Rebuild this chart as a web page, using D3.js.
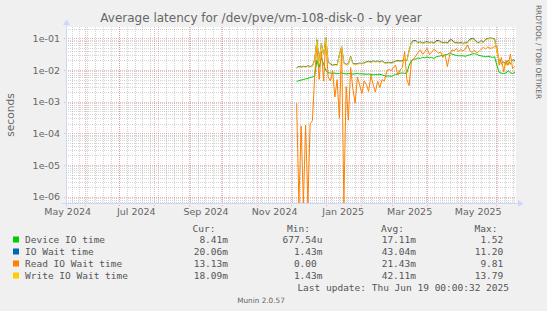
<!DOCTYPE html>
<html>
<head>
<meta charset="utf-8">
<script src="https://cdn.jsdelivr.net/npm/d3@7"></script>
<style>
  body { margin: 0; background: #f0f0f0; }
  svg { display: block; }
  text { font-family: "DejaVu Sans", sans-serif; fill: #666; }
  .mono { font-family: "DejaVu Sans Mono", monospace; font-size: 9.5px; fill: #555; }
</style>
</head>
<body>
<div id="chart"></div>
<script>
// canvas and plot box
var w = 547, h = 311;
var plotL = 66, plotR = 516, plotT = 27, plotB = 203;

// one sample every 2 days starting 6 Dec 2024, values in milliseconds
var firstDay = Date.UTC(2024, 11, 6);
var stepDays = 2;

var deviceIO = [4.3,4.6,4.8,5.0,5.2,5.4,5.8,6.0,6.5,20,12,25,15,9.5,8.2,8.0,7.8,8.0,7.6,7.8,8.2,7.7,7.5,7.6,7.9,7.4,7.6,7.8,7.5,7.6,
  7.4,7.3,7.5,7.2,7.0,7.2,7.1,7.3,7.0,6.6,6.4,6.5,6.3,6.7,7.2,7.6,7.9,8.1,7.8,8.2,
  14,20,22,22,24,23,25,24,26,24,25,23,26,27,28,29,30,31,34,32,
  30,29,28,28,28,27,29,30,32,33,31,29,28,27,26,27,26,25,26,14,
  8.5,7.9,7.8,8.0,9.5,8.2,7.8,8.4];

var ioWait = [11.8,13.0,12.3,13.1,12.7,13.4,12.9,13.5,21,90,19,68,31,104,17.8,15.7,14.1,15.1,14.4,31,54,16.7,15.1,15.6,27,16.2,15.4,15.9,16.5,16.1,
  16.7,18.3,18.8,18,19.2,18.6,19,18.3,19.4,17.2,16.7,17.5,16.9,17.8,19.3,19.8,19,19.6,20.3,19.8,
  42,75,85,84,73,77,71,75,80,73,76,71,84,86,78,73,75,71,88,90,
  75,73,71,73,69,72,75,94,100,94,77,73,84,75,94,99,102,100,96,40,
  21,16,18,14.2,20,15.3,21,20.1];

var readWait = [0.89,0,0.17,0,0.18,0,0.2,0.25,6,70,5,40,4.5,95,6,4.5,9.5,1.4,5,0.3,55,0,3.0,0.26,12,2.5,0.9,6,3.4,1.8,
  4.5,3.5,2.1,6.9,3.5,2.0,4.4,2.8,5.0,4.4,9,10.5,9.5,12,14,6.9,10,12,38,5,
  3.2,18,22,28,36,43,31,38,48,31,36,45,40,34,37,25,30,12.7,30,43,
  40,48,38,44,40,46,62,40,36,42,35,38,45,52,46,54,48,50,55,58,
  14,25,8.8,20,14,32,11,13.1];

var writeWait = [11.3,12.5,11.8,12.6,12.2,12.9,12.4,13.0,20,85,18,65,30,100,17,15,13.5,14.5,13.8,30,52,16,14.5,15,26,15.5,14.8,15.2,15.8,15.4,
  16,17.5,18,17.2,18.4,17.8,18.2,17.5,18.6,16.5,16.0,16.8,16.2,17.0,18.5,19,18.2,18.8,19.5,19.0,
  40,72,78,80,70,74,68,72,76,70,73,68,78,80,75,70,72,68,82,85,
  72,70,68,70,66,69,72,88,95,90,74,70,80,72,90,95,98,96,92,38,
  20,15,17,13.5,19,14.5,20,18.1];

var seriesNames = ["Device IO time", "IO Wait time", "Read IO Wait time", "Write IO Wait time"];
var seriesColors = ["#00cc00", "#0066b3", "#ff8000", "#ffcc00"];
var curVals = ["8.41m", "20.06m", "13.13m", "18.09m"];
var minVals = ["677.54u", "1.43m", "0.00", "1.43m"];
var avgVals = ["17.11m", "43.04m", "21.43m", "42.11m"];
var maxVals = ["1.52", "11.20", "9.81", "13.79"];

var yTicks = [1e-1, 1e-2, 1e-3, 1e-4, 1e-5, 1e-6];
var labelMonths = [Date.UTC(2024,4,1), Date.UTC(2024,6,1), Date.UTC(2024,8,1), Date.UTC(2024,10,1),
                   Date.UTC(2025,0,1), Date.UTC(2025,2,1), Date.UTC(2025,4,1)];

// time span: 400 days up to last update
var endTime = new Date(Date.UTC(2025, 5, 19, 0, 0, 32));
var startTime = new Date(endTime.getTime() - 400 * 864e5);

var x = d3.scaleUtc().domain([startTime, endTime]).range([plotL, plotR]);
var yMin = Math.pow(10, -6.199), yMax = Math.pow(10, -0.643);
var y = d3.scaleLog().domain([yMin, yMax]).range([plotB, plotT]);

var svg = d3.select("#chart").append("svg")
  .attr("width", w).attr("height", h);

svg.append("rect").attr("width", w).attr("height", h).attr("fill", "#f0f0f0");
svg.append("rect").attr("x", plotL).attr("y", plotT)
  .attr("width", plotR - plotL).attr("height", plotB - plotT).attr("fill", "#fff");

var minorCol = "rgba(143,143,143,0.38)";
var majorCol = "rgba(222,79,79,0.42)";

// minor grid
var minorY = [];
for (var e = -7; e <= 0; e++) {
  for (var k = 2; k <= 9; k++) {
    var v = k * Math.pow(10, e);
    if (v > yMin && v < yMax) minorY.push(v);
  }
}
var grid = svg.append("g");
grid.selectAll(".hminor").data(minorY).enter().append("line")
  .attr("x1", plotL).attr("x2", plotR)
  .attr("y1", d => Math.round(y(d)) + 0.5).attr("y2", d => Math.round(y(d)) + 0.5)
  .attr("stroke", minorCol).attr("stroke-dasharray", "1,1");

var weeks = d3.utcMonday.range(startTime, endTime);
grid.selectAll(".vminor").data(weeks).enter().append("line")
  .attr("x1", d => Math.round(x(d)) + 0.5).attr("x2", d => Math.round(x(d)) + 0.5)
  .attr("y1", plotT).attr("y2", plotB)
  .attr("stroke", minorCol).attr("stroke-dasharray", "1,1");

// major grid
grid.selectAll(".hmajor").data(yTicks).enter().append("line")
  .attr("x1", plotL - 2).attr("x2", plotR)
  .attr("y1", d => Math.round(y(d)) + 0.5).attr("y2", d => Math.round(y(d)) + 0.5)
  .attr("stroke", majorCol).attr("stroke-dasharray", "1,1");

var months = d3.utcMonth.range(startTime, endTime);
grid.selectAll(".vmajor").data(months).enter().append("line")
  .attr("x1", d => Math.round(x(d)) + 0.5).attr("x2", d => Math.round(x(d)) + 0.5)
  .attr("y1", plotT).attr("y2", plotB + 3)
  .attr("stroke", majorCol).attr("stroke-dasharray", "1,1");

// series
function toPoints(vals) {
  return vals.map(function(v, i) {
    return { date: new Date(firstDay + i * stepDays * 864e5), v: v };
  });
}
var allSeries = [deviceIO, ioWait, readWait, writeWait];

svg.append("clipPath").attr("id", "plotclip").append("rect")
  .attr("x", plotL).attr("y", plotT).attr("width", plotR - plotL).attr("height", plotB - plotT);

var line = d3.line()
  .x(d => x(d.date))
  .y(d => d.v > 0 ? y(d.v / 1000) : plotB);

svg.append("g").attr("clip-path", "url(#plotclip)")
  .selectAll("path").data(allSeries).enter().append("path")
  .attr("d", d => line(toPoints(d)))
  .attr("fill", "none")
  .attr("stroke", (d, i) => seriesColors[i])
  .attr("stroke-width", 1);

// axes lines and arrows
var axisCol = "#cfd6f8";
svg.append("line").attr("x1", plotL - 4).attr("x2", plotR + 4)
  .attr("y1", plotB + 0.5).attr("y2", plotB + 0.5).attr("stroke", axisCol);
svg.append("line").attr("x1", plotL + 0.5).attr("x2", plotL + 0.5)
  .attr("y1", plotB + 4).attr("y2", plotT - 4).attr("stroke", axisCol);
svg.append("path").attr("fill", axisCol)
  .attr("d", `M${plotR + 2},${plotB - 3}L${plotR + 2},${plotB + 4}L${plotR + 7.5},${plotB + 0.5}Z`);
svg.append("path").attr("fill", axisCol)
  .attr("d", `M${plotL - 3},${plotT - 2}L${plotL + 4},${plotT - 2}L${plotL + 0.5},${plotT - 7.5}Z`);

// x labels: rrdtool centres them half a month after the month start
var xAxis = d3.axisBottom(x)
  .tickValues(labelMonths.map(m => d3.utcDay.offset(new Date(m), 15)))
  .tickFormat(d => d3.utcFormat("%b %Y")(d3.utcMonth.floor(d)))
  .tickSize(0).tickPadding(5.5);
var gx = svg.append("g").attr("transform", `translate(0,${plotB})`).call(xAxis);
gx.select(".domain").remove();
gx.selectAll("text").attr("fill", "#666").style("font-family", "DejaVu Sans").style("font-size", "9.5px");

var yAxis = d3.axisLeft(y)
  .tickValues(yTicks)
  .tickFormat(d => "1e-" + String(Math.round(-Math.log10(d))).padStart(2, "0"))
  .tickSize(0).tickPadding(6);
var gy = svg.append("g").attr("transform", `translate(${plotL},0)`).call(yAxis);
gy.select(".domain").remove();
gy.selectAll("text").attr("fill", "#666").style("font-family", "DejaVu Sans").style("font-size", "9.5px");

// title, unit, watermark
svg.append("text").attr("x", 261).attr("y", 22).attr("text-anchor", "middle")
  .style("font-size", "12px").text("Average latency for /dev/pve/vm-108-disk-0 - by year");
svg.append("text").attr("transform", "translate(14,115) rotate(-90)").attr("text-anchor", "middle")
  .style("font-size", "10.7px").text("seconds");
svg.append("text").attr("transform", "translate(536,5) rotate(90)")
  .style("font-size", "7.3px").attr("fill", "#d0d0d0").text("RRDTOOL / TOBI OETIKER");

// legend
var charW = 5.72;
var colEnds = [228, 322.5, 416, 509];
var headers = ["Cur:", "Min:", "Avg:", "Max:"];
var headerEnds = [215.5, 310, 404, 497.5];
var lg = svg.append("g");
headers.forEach(function(t, j) {
  lg.append("text").attr("class", "mono").attr("x", headerEnds[j]).attr("y", 231.5)
    .attr("text-anchor", "end").text(t);
});
seriesNames.forEach(function(name, i) {
  var by = 243 + i * 12;
  lg.append("rect").attr("x", 13).attr("y", by - 6.5).attr("width", 6).attr("height", 6)
    .attr("fill", seriesColors[i]);
  lg.append("text").attr("class", "mono").attr("x", 25).attr("y", by).text(name);
  [curVals[i], minVals[i], avgVals[i], maxVals[i]].forEach(function(s, j) {
    var hasUnit = /[a-z]$/i.test(s);
    lg.append("text").attr("class", "mono")
      .attr("x", colEnds[j] - (hasUnit ? 0 : charW)).attr("y", by)
      .attr("text-anchor", "end").text(s);
  });
});
lg.append("text").attr("class", "mono").attr("x", 509).attr("y", 291)
  .attr("text-anchor", "end").text("Last update: Thu Jun 19 00:00:32 2025");
svg.append("text").attr("x", 261).attr("y", 302.5).attr("text-anchor", "middle")
  .style("font-size", "7.3px").attr("fill", "#bbb").text("Munin 2.0.57");
</script>
</body>
</html>
